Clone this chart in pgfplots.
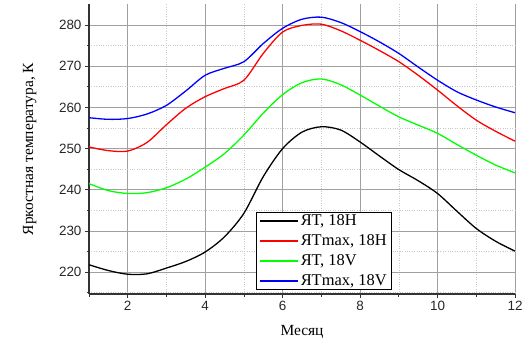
\documentclass[border=0pt]{standalone}
\usepackage{pgfplots}
\pgfplotsset{compat=1.18}
\usepackage{fontspec}
\setmainfont{Liberation Serif}
\setsansfont{Liberation Sans}
\usetikzlibrary{calc}
\definecolor{majgrid}{RGB}{160,160,160}
\definecolor{mingrid}{RGB}{200,200,200}
\definecolor{cgreen}{RGB}{0,255,0}
\definecolor{cblue}{RGB}{0,0,255}
\definecolor{cred}{RGB}{255,0,0}
\begin{document}
\begin{tikzpicture}
\begin{axis}[
  scale only axis,
  width=426bp, height=290bp,
  xmin=1, xmax=12, ymin=214.7, ymax=285.1,
  xtick={2,4,...,12}, ytick={220,230,...,280},
  minor xtick={1,3,...,11}, minor ytick={215,225,...,275},
  axis lines*=left,
  axis line style={black!80, line width=1.1pt},
  tick align=outside,
  major tick length=4bp, minor tick length=2.5bp,
  tick style={black!80, line width=0.8pt},
  grid=both,
  major grid style={majgrid, line width=0.9pt},
  minor grid style={mingrid, dotted, line width=0.6pt},
  /pgf/number format/assume math mode=true,
  ticklabel style={font=\sffamily\fontsize{13.5}{15}\selectfont, text=black!85},
  xlabel={Месяц},
  ylabel={Яркостная температура, К},
  label style={font=\fontsize{15.5}{18}\selectfont},
  xlabel style={at={(axis description cs:0.5,-0.131)}, anchor=center},
  ylabel style={at={(axis description cs:-0.139,0.5)}, anchor=center},
  legend style={at={(0.392,0.014)}, anchor=south west, draw=black, line width=0.6pt,
    fill=white,
    font=\fontsize{16.5}{18}\selectfont, inner xsep=3bp, inner ysep=0.5bp,
    row sep=3.5bp},
  legend cell align=left,
  legend image code/.code={\path[draw, #1, line width=1.5pt] (0bp,0bp) -- (38bp,0bp);},
  every axis plot/.append style={line width=1.3pt, smooth},
]
\addplot[draw=black] coordinates {
(1,221.8) (1.5,220.4) (2,219.5) (2.5,219.6) (3,221.0) (3.5,222.6) (4,224.9)
(4.5,228.6) (5,234.3) (5.5,243.2) (6,250.0) (6.5,254.0) (7,255.3) (7.5,254.5)
(8,251.6) (8.5,248.2) (9,244.9) (9.5,242.2) (10,239.1) (10.5,234.8) (11,230.6)
(11.5,227.5) (12,225.1)};
\addlegendentry{ЯТ, 18H}
\addplot[draw=cred] coordinates {
(1,250.4) (1.5,249.5) (2,249.4) (2.5,251.5) (3,255.8) (3.5,259.8) (4,262.6)
(4.5,264.6) (5,266.6) (5.5,273.1) (6,278.3) (6.5,279.9) (7,280.2) (7.5,278.6)
(8,276.3) (8.5,273.8) (9,271.1) (9.5,267.8) (10,264.2) (10.5,260.4) (11,256.9)
(11.5,254.2) (12,251.8)};
\addlegendentry{ЯТmax, 18H}
\addplot[draw=cgreen] coordinates {
(1,241.5) (1.5,239.8) (2,239.1) (2.5,239.3) (3,240.5) (3.5,242.6) (4,245.5)
(4.5,248.8) (5,253.3) (5.5,258.6) (6,263.1) (6.5,266.0) (7,266.9) (7.5,265.5)
(8,263.0) (8.5,260.3) (9,257.7) (9.5,255.7) (10,253.7) (10.5,251.0) (11,248.4)
(11.5,246.0) (12,244.1)};
\addlegendentry{ЯТ, 18V}
\addplot[draw=cblue] coordinates {
(1,257.5) (1.5,257.1) (2,257.3) (2.5,258.4) (3,260.5) (3.5,264.0) (4,267.8)
(4.5,269.5) (5,271.1) (5.5,275.5) (6,279.2) (6.5,281.4) (7,281.9) (7.5,280.6)
(8,278.4) (8.5,275.9) (9,273.1) (9.5,269.8) (10,266.6) (10.5,263.8) (11,261.8)
(11.5,260.1) (12,258.7)};
\addlegendentry{ЯТmax, 18V}
\end{axis}
\pgfresetboundingbox
\path ($(current axis.south west)+(-89bp,-47bp)$) rectangle ($(current axis.north east)+(12bp,4bp)$);
\end{tikzpicture}
\end{document}
